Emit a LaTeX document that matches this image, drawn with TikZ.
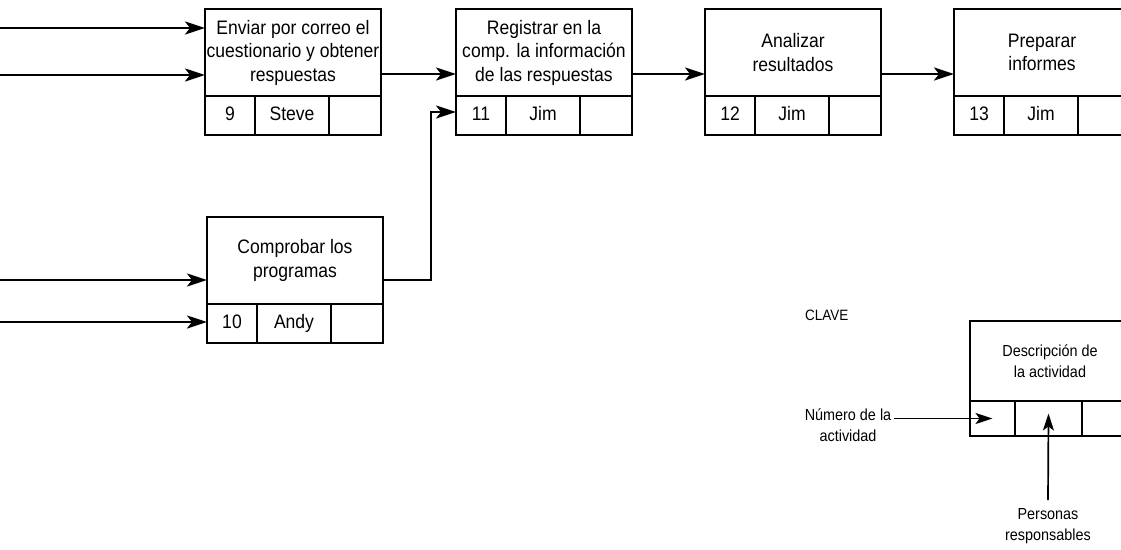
\documentclass[tikz,border=0pt]{standalone}
\usepackage{fontspec}
\setmainfont{Liberation Sans}[FakeStretch=0.9]
\usetikzlibrary{arrows.meta}
\newcommand\actbox[6]{%
  \node[desc] (#1) at (#2,#3) {#4};
  \node[cell, minimum width=50pt] (#1-n) at (#1.south west) {#5};
  \node[cell, minimum width=74pt] (#1-p) at (#1-n.north east) {#6};
  \node[cell, minimum width=52pt] (#1-e) at (#1-p.north east) {};
}
\begin{document}
\begin{tikzpicture}[x=1pt,y=-1pt,
  mainfont/.style={font=\fontsize{19.5}{23.5}\selectfont},
  desc/.style={draw, line width=2.8pt, minimum width=176pt, minimum height=87pt,
    anchor=north west, align=center, inner sep=0pt, outer sep=0pt, mainfont},
  cell/.style={draw, line width=2.6pt, minimum height=39pt, anchor=north west,
    inner sep=0pt, outer sep=0pt, text height=14pt, text depth=4pt, mainfont},
  kfont/.style={font=\fontsize{16}{21}\selectfont},
  kdesc/.style={draw, line width=2.2pt, minimum width=160pt, minimum height=80pt,
    anchor=north west, align=center, inner sep=0pt, outer sep=0pt, kfont},
  kcell/.style={draw, line width=2.2pt, minimum height=35pt, anchor=north west,
    inner sep=0pt, outer sep=0pt},
  arr/.style={line width=2.5pt, -{Stealth[length=20pt,width=13pt,inset=5pt]}},
  karr/.style={line width=1.7pt, -{Stealth[length=17pt,width=11pt,inset=4pt]}},
 ]
\useasboundingbox (0,0) rectangle (1121,549);
\clip (0,0) rectangle (1121,549);

\actbox{b9}{205}{9}{Enviar por correo el\\cuestionario y obtener\\respuestas}{9}{Steve}
\actbox{b11}{456}{9}{Registrar en la\\comp. la información\\de las respuestas}{11}{Jim}
\actbox{b12}{705}{9}{Analizar\\resultados}{12}{Jim}
\actbox{b13}{954}{9}{Preparar\\informes}{13}{Jim}
\actbox{b10}{207}{217}{Comprobar los\\programas}{10}{Andy}

\coordinate (i1) at (0,28);
\coordinate (i2) at (0,75);
\coordinate (i3) at (0,280);
\coordinate (i4) at (0,322);
\coordinate (m) at (0,74);
\coordinate (k) at (431,112);

\draw[arr] (i1) -- (i1 -| b9.west);
\draw[arr] (i2) -- (i2 -| b9.west);
\draw[arr] (i3) -- (i3 -| b10.west);
\draw[arr] (i4) -- (i4 -| b10-n.west);
\draw[arr] (b9.east |- m) -- (b11.west |- m);
\draw[arr] (b11.east |- m) -- (b12.west |- m);
\draw[arr] (b12.east |- m) -- (b13.west |- m);
\draw[arr] (b10.east |- i3) -| (k) -- (k -| b11.west);

% key
\node[font=\fontsize{15}{18}\selectfont, anchor=west, inner sep=0pt] (clave) at (805,315) {CLAVE};
\node[kdesc] (kd) at (970,321) {Descripción de\\la actividad};
\node[kcell, minimum width=45pt] (kn) at (kd.south west) {};
\node[kcell, minimum width=67pt] (kp) at (kn.north east) {};
\node[kcell, minimum width=48pt] (ke) at (kp.north east) {};
\node[kfont, align=center, inner sep=3pt] (kl) at (848,425) {Número de la\\actividad};
\node[kfont, align=center, anchor=north, inner sep=0pt] (pr) at (1048,508) {Personas\\responsables};
\draw[karr] (kl.east |- kn) -- (kn.center);
\draw[karr] ([yshift=8pt]pr.north) -- ([yshift=5pt]kp.center);
\end{tikzpicture}
\end{document}
